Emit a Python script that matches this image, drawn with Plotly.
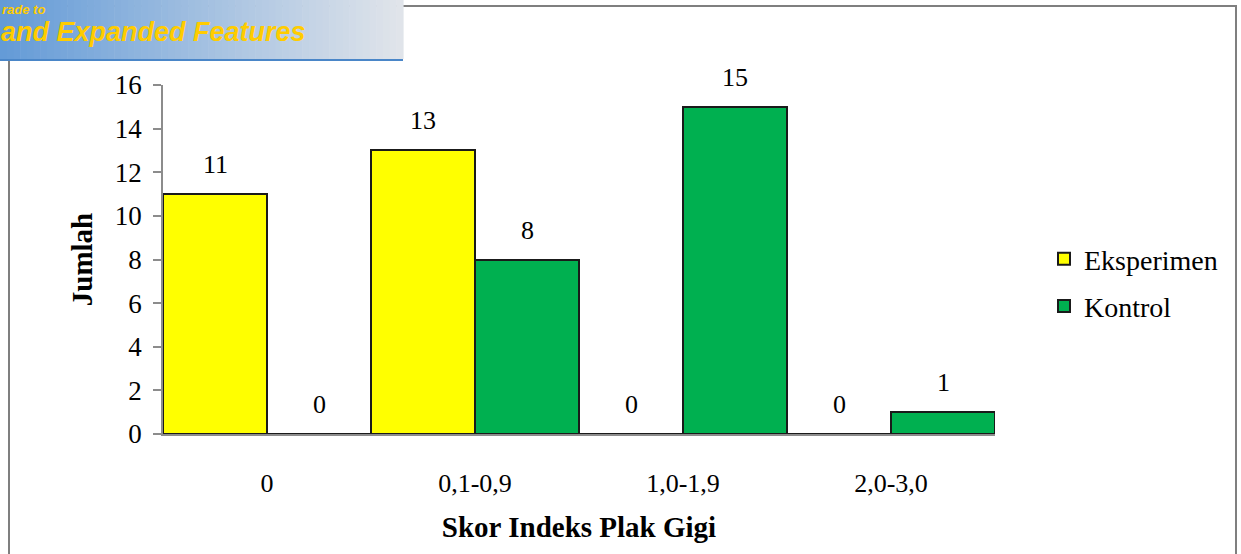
import plotly.graph_objects as go

# Distribution of dental plaque index scores per group
categories = ["0", "0,1-0,9", "1,0-1,9", "2,0-3,0"]
eksperimen = [11, 13, 0, 0]
kontrol = [0, 8, 15, 1]
y_ticks = [0, 2, 4, 6, 8, 10, 12, 14, 16]

W, H = 1241, 554
L, R, T, B = 163, 246, 85, 120  # plot area margins in px
PW, PH = W - L - R, H - T - B

def px_x(px):
    return (px - L) / PW

def px_y(py):
    return (H - B - py) / PH

SERIF = "Liberation Serif, Times New Roman, serif"
YELLOW = "#ffff00"
GREEN = "#00b050"

fig = go.Figure()
fig.add_trace(go.Bar(
    x=categories, y=eksperimen, name="Eksperimen",
    marker=dict(color=YELLOW, line=dict(color="#1a1a1a", width=2)),
    legendgroup="a",
))
fig.add_trace(go.Bar(
    x=categories, y=kontrol, name="Kontrol",
    marker=dict(color=GREEN, line=dict(color="#1a1a1a", width=2)),
    legendgroup="b",
))

# value labels above each bar
annotations = []
for vals, shift in ((eksperimen, -52), (kontrol, 52)):
    for cat, v in zip(categories, vals):
        annotations.append(dict(
            x=cat, y=v, xref="x", yref="y", text=str(v), showarrow=False,
            xshift=shift, yshift=13, yanchor="bottom",
            font=dict(family=SERIF, size=26, color="#000"),
        ))

shapes = []
# outer chart frame
shapes.append(dict(
    type="rect", xref="paper", yref="paper",
    x0=px_x(9), x1=px_x(1236), y0=px_y(600), y1=px_y(6),
    line=dict(color="#7f7f7f", width=2), fillcolor="rgba(0,0,0,0)", layer="below",
))

# banner in the top-left corner, drawn as a horizontal colour ramp
c0 = (100, 155, 215)
c1 = (224, 228, 234)
n = 60
bx0, bx1, by0, by1 = 0, 403, 0, 59
for i in range(n):
    t = i / (n - 1)
    col = tuple(round(a + (b - a) * t) for a, b in zip(c0, c1))
    xa = bx0 + (bx1 - bx0) * i / n
    xb = bx0 + (bx1 - bx0) * (i + 1) / n + 0.6
    shapes.append(dict(
        type="rect", xref="paper", yref="paper",
        x0=px_x(xa), x1=px_x(xb), y0=px_y(by1), y1=px_y(by0 - 2),
        line=dict(width=0), fillcolor="rgb(%d,%d,%d)" % col, layer="above",
    ))
shapes.append(dict(
    type="line", xref="paper", yref="paper",
    x0=px_x(0), x1=px_x(403), y0=px_y(60), y1=px_y(60),
    line=dict(color="#4a86c8", width=2), layer="above",
))

annotations.append(dict(
    xref="paper", yref="paper", x=px_x(0), y=px_y(0),
    text="<b><i>rade to</i></b>", showarrow=False,
    xanchor="left", yanchor="top",
    font=dict(family="Liberation Sans, Arial, sans-serif", size=13, color="#ffcc00"),
))
annotations.append(dict(
    xref="paper", yref="paper", x=px_x(-1), y=px_y(32),
    text="<b><i>and Expanded Features</i></b>", showarrow=False,
    xanchor="left", yanchor="middle",
    font=dict(family="Liberation Sans, Arial, sans-serif", size=27, color="#ffcc00"),
))

fig.update_layout(
    width=W, height=H,
    margin=dict(l=L, r=R, t=T, b=B, autoexpand=False),
    paper_bgcolor="white", plot_bgcolor="white",
    barmode="group", bargap=0, bargroupgap=0,
    font=dict(family=SERIF, size=26, color="#000"),
    showlegend=True,
    legend=dict(
        x=px_x(1044), y=px_y(234), xanchor="left", yanchor="top",
        font=dict(family=SERIF, size=28, color="#000"),
        traceorder="grouped", tracegroupgap=8,
        bgcolor="rgba(0,0,0,0)",
    ),
    xaxis=dict(
        type="category", range=[-0.5, 3.5],
        showline=True, linecolor="#8c8c8c", linewidth=1.5,
        ticks="", showgrid=False, ticklabelstandoff=25,
        tickfont=dict(family=SERIF, size=26),
        title=dict(text="<b>Skor Indeks Plak Gigi</b>", standoff=20,
                   font=dict(family=SERIF, size=29)),
    ),
    yaxis=dict(
        range=[0, 16], tickvals=y_ticks,
        showline=True, linecolor="#8c8c8c", linewidth=1.5,
        ticks="outside", ticklen=8, tickcolor="#8c8c8c", tickwidth=1.5,
        showgrid=False, zeroline=False, ticklabelstandoff=6,
        tickfont=dict(family=SERIF, size=27),
        title=dict(text="<b>Jumlah</b>", standoff=14,
                   font=dict(family=SERIF, size=29)),
    ),
    shapes=shapes,
    annotations=annotations,
)

fig.write_html("out.html")
